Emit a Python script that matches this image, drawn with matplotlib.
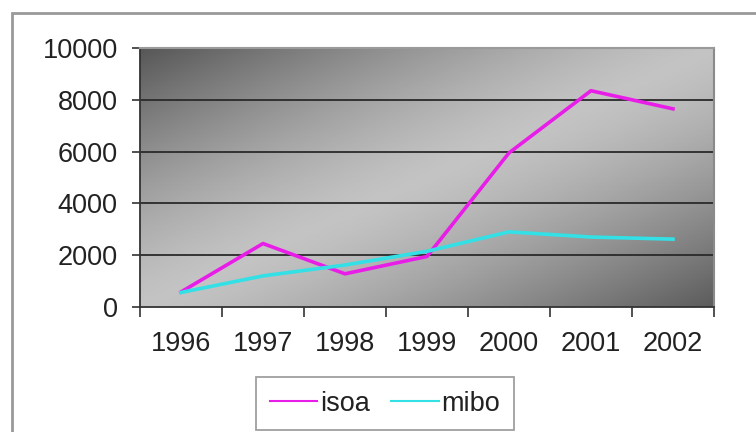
import numpy as np
import matplotlib
import matplotlib.pyplot as plt
from matplotlib.patches import Rectangle

matplotlib.use('Agg')
plt.rcParams['font.family'] = ['Liberation Sans', 'DejaVu Sans']

years = ['1996', '1997', '1998', '1999', '2000', '2001', '2002']
isoa = [580, 2450, 1280, 1950, 5950, 8350, 7650]
mibo = [560, 1200, 1620, 2150, 2900, 2700, 2620]

fig = plt.figure(figsize=(7.56, 4.32), dpi=100)
ax = fig.add_axes([0.1852, 0.2894, 0.7592, 0.5995])

# diagonal gradient: dark corners, light band through the middle
gx, gy = np.meshgrid(np.linspace(0, 1, 400), np.linspace(0, 1, 200))
t = (gx + gy) / 2
light = 0.765
dark = np.where(t < 0.5, 0.34, 0.36)
shade = dark + (light - dark) * (1 - np.abs(2 * t - 1) ** 1.35)
ax.imshow(shade, cmap='gray', vmin=0, vmax=1, aspect='auto', origin='upper',
          extent=[-0.5, 6.5, 0, 10000], zorder=0, interpolation='bilinear')

x = np.arange(len(years))
ax.plot(x, isoa, color='#e81ee8', lw=2.6, label='isoa', zorder=3)
ax.plot(x, mibo, color='#33e0e6', lw=2.6, label='mibo', zorder=3)

ax.set_xlim(-0.5, 6.5)
ax.set_ylim(0, 10000)
ax.set_yticks(range(0, 10001, 2000))
for v in range(2000, 10000, 2000):
    ax.axhline(v, color='#2a2a2a', lw=1.3, zorder=1)

ax.set_xticks(x)
ax.set_xticklabels(years)
ax.set_xticks(np.arange(-0.5, 7, 1), minor=True)
ax.tick_params(axis='x', which='major', length=0, pad=17, labelsize=19.5,
               labelcolor='#222222')
ax.tick_params(axis='x', which='minor', length=7, width=1.2, color='#333333',
               direction='out')
ax.tick_params(axis='y', length=6, width=1.2, color='#333333', pad=10,
               labelsize=19.5, labelcolor='#222222')

ax.spines['left'].set_color('#333333')
ax.spines['bottom'].set_color('#333333')
ax.spines['left'].set_linewidth(1.3)
ax.spines['bottom'].set_linewidth(1.3)
ax.spines['top'].set_color('#9a9a9a')
ax.spines['right'].set_color('#8a8a8a')
ax.spines['top'].set_linewidth(1.5)
ax.spines['right'].set_linewidth(1.5)

leg = ax.legend(loc='upper center', bbox_to_anchor=(385 / 756, 1 - 377 / 432),
                bbox_transform=fig.transFigure, ncol=2, fontsize=19.5,
                frameon=True, fancybox=False, handlelength=1.75,
                handletextpad=0.1, columnspacing=0.8, borderpad=0.5,
                borderaxespad=0)
leg.get_frame().set_edgecolor('#888888')
leg.get_frame().set_linewidth(1.3)
for h in leg.get_lines():
    h.set_linewidth(1.5)
for txt in leg.get_texts():
    txt.set_color('#222222')

# outer chart border, open at right and bottom
fig.patches.append(Rectangle((12 / 756, -0.1), 1.2, 1.1 - 13 / 432,
                             transform=fig.transFigure, fill=False,
                             edgecolor='#999999', lw=2))

fig.savefig('out.png', dpi=100)
